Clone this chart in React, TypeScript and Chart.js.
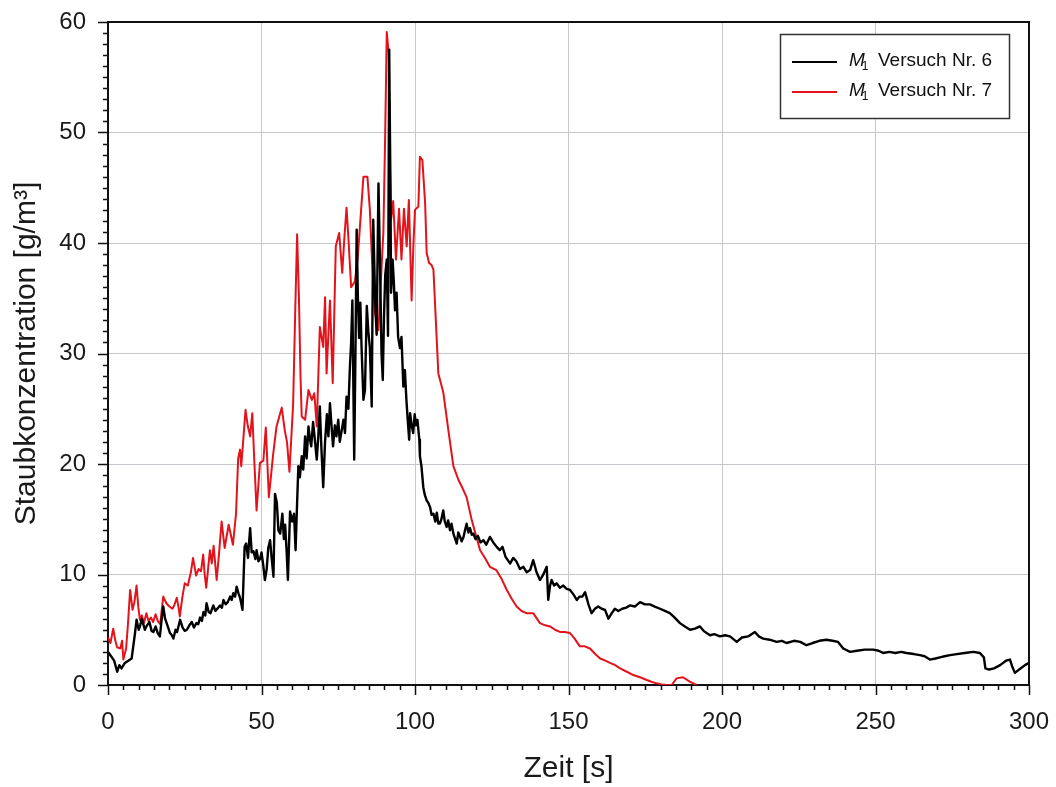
import React, { useEffect, useRef } from 'react';
import { Chart, registerables } from 'chart.js';

Chart.register(...registerables);

// ---------- data ----------
const seriesLabels = ['Versuch Nr. 6', 'Versuch Nr. 7'];
const seriesColors = ['#000000', '#e3131b'];

const blackTime = [
  0, 1, 2, 3, 3.7, 4.4, 5.5, 6.6, 7.7, 8.8, 9.3, 10, 10.4, 11, 11.4, 12, 12.5, 13.5, 14.2, 14.8,
  15.5, 16.2, 16.9, 17.5, 18, 18.6, 19.1, 19.6, 20.2, 20.8, 21.3, 22, 22.5, 23.5, 24.3, 25, 25.7, 26.5, 27.3, 28,
  28.8, 29.4, 30, 30.6, 31.1, 31.7, 32.1, 32.8, 33.4, 34.3, 35, 35.6, 36.5, 37.1, 37.6, 38.3, 39, 39.8, 40.3, 40.8,
  41.4, 41.9, 42.5, 43, 43.4, 43.8, 44.2, 44.5, 45, 45.6, 46.3, 46.8, 47.4, 48, 48.4, 49, 49.5, 50, 50.5, 51.1,
  51.7, 52.2, 52.8, 53.3, 53.9, 54.4, 55, 55.5, 56.1, 56.8, 57.3, 57.7, 58.2, 58.6, 59.3, 60, 60.6, 61.1, 61.6, 62,
  62.5, 63.1, 63.6, 64.2, 64.7, 65.3, 65.8, 66.2, 66.8, 67.3, 68, 68.5, 69, 69.5, 70.1, 70.7, 71.3, 71.8, 72.3, 72.8,
  73.3, 73.9, 74.4, 75, 75.5, 76.1, 76.7, 77.2, 77.7, 78.3, 78.8, 79.2, 79.6, 80.2, 80.6, 81, 81.4, 81.8, 82.2, 82.6,
  83.2, 83.7, 84.3, 84.8, 85.3, 85.9, 86.4, 87, 87.5, 88.1, 88.6, 89.1, 89.5, 89.9, 90.3, 90.8, 91.2, 91.6, 92, 92.2,
  92.7, 93.1, 93.5, 94, 94.5, 95.1, 95.6, 96.2, 96.7, 97.2, 97.6, 98.1, 98.4, 98.9, 99.4, 99.9, 100.3, 100.8, 101.4, 101.6,
  102.1, 102.7, 103.2, 103.8, 104.3, 104.9, 105.4, 106, 106.6, 107.1, 107.6, 108.1, 108.6, 109.2, 109.7, 110.3, 110.8, 111.4, 111.9, 112.5,
  113, 113.6, 114.1, 114.7, 115.2, 115.8, 116.3, 116.8, 117.4, 117.9, 118.5, 119, 119.7, 120.5, 121.3, 122.3, 123.2, 124.4, 125.5, 126.6,
  127.6, 128.5, 129.5, 131, 132, 133, 134.2, 135.3, 136.4, 137.5, 138.5, 139.6, 140.7, 141.8, 142.9, 143.4, 144, 144.5, 145.3, 146.1,
  147.2, 148.3, 149.4, 150.5, 151.6, 152.7, 153.6, 154.5, 155.4, 156.5, 157.5, 158.6, 159.7, 160.8, 161.9, 163, 164.1, 165.1, 166.2, 167.5,
  168.8, 170, 171.6, 173.3, 174.9, 176.5, 178.1, 179.8, 181.4, 183, 184.6, 186.3, 187.9, 189.6, 191.2, 192.8, 194, 195, 196.1, 197.5,
  199.3, 201, 202.6, 204.8, 206.5, 208.5, 210.7, 212, 213.4, 215.5, 217.8, 219.5, 221, 223.5, 225.5, 227.5, 229.5, 231.7, 234, 236,
  237.8, 239.5, 241.7, 244, 246.5, 249.3, 251, 252.5, 254.5, 256.5, 258.3, 260.1, 262.5, 264.5, 266, 267.7, 269.5, 271, 272.5, 274.3,
  276.5, 279, 281.9, 284, 285.3, 285.8, 287, 288.6, 290.6, 292.5, 293.8, 294.5, 295.4, 296.8, 298.7, 300,
];
const blackValue = [
  3.0, 2.6, 2.2, 1.2, 1.8, 1.5, 2.0, 2.2, 2.4, 4.7, 5.9, 5.0, 5.3, 6.0, 5.6, 5.0, 5.3, 5.7, 4.9, 4.8,
  5.3, 4.7, 4.4, 6.0, 7.1, 6.0, 5.6, 5.2, 4.7, 4.5, 4.2, 5.0, 4.8, 5.9, 5.2, 4.9, 5.0, 5.4, 5.7, 5.2,
  5.6, 5.5, 6.1, 5.8, 6.6, 6.3, 7.4, 6.6, 6.5, 7.2, 6.7, 6.9, 7.2, 7.0, 7.7, 7.3, 7.5, 8.0, 7.7, 8.3,
  8.0, 8.9, 8.3, 7.9, 7.4, 6.8, 10.0, 12.5, 12.8, 11.5, 14.2, 12.0, 12.1, 11.4, 12.2, 11.2, 11.4, 12.0, 11.0, 9.5,
  10.5, 12.4, 13.1, 11.5, 9.8, 17.3, 16.5, 14.0, 13.7, 15.5, 13.2, 14.5, 12.0, 9.5, 15.7, 14.8, 15.5, 12.2, 16.5, 19.8,
  18.8, 20.7, 19.5, 22.5, 20.5, 23.4, 22.2, 21.6, 23.8, 22.4, 20.4, 22.5, 25.2, 21.5, 17.9, 22.0, 24.5, 22.5, 25.5, 23.5,
  21.6, 23.5, 22.5, 24.0, 22.0, 23.0, 24.0, 22.8, 26.1, 25.0, 28.8, 31.0, 34.8, 20.4, 30.0, 41.2, 35.0, 31.4, 34.6, 30.5,
  25.8, 26.7, 34.3, 32.0, 30.5, 25.2, 42.1, 35.0, 31.7, 45.4, 38.0, 30.0, 27.6, 33.3, 37.1, 38.5, 31.6, 57.5, 45.0, 35.5,
  38.5, 36.5, 33.9, 35.5, 31.5, 30.5, 31.5, 27.0, 28.5, 25.8, 24.1, 22.2, 24.6, 23.5, 22.8, 24.5, 23.5, 24.0, 22.2, 20.7,
  19.8, 17.9, 17.2, 16.7, 16.5, 16.1, 15.4, 15.5, 14.8, 15.6, 14.6, 14.6, 15.0, 15.8, 14.8, 14.3, 14.9, 14.0, 14.6, 13.7,
  13.3, 12.8, 13.8, 13.4, 13.0, 13.4, 14.0, 14.6, 13.8, 14.2, 13.6, 13.7, 13.2, 13.5, 12.9, 13.1, 12.7, 13.4, 12.9, 12.5,
  12.2, 12.5, 11.6, 11.0, 11.5, 11.2, 10.5, 10.7, 10.2, 10.4, 11.3, 10.2, 9.5, 10.0, 10.7, 7.7, 9.0, 9.5, 9.0, 9.2,
  8.8, 9.0, 8.7, 8.6, 8.2, 7.7, 8.0, 8.0, 8.4, 7.3, 6.5, 6.9, 7.1, 6.9, 6.8, 6.0, 6.5, 6.9, 6.7, 6.9,
  7.0, 7.2, 7.1, 7.5, 7.3, 7.3, 7.1, 6.9, 6.7, 6.5, 6.1, 5.6, 5.3, 5.0, 5.1, 5.3, 4.9, 4.7, 4.5, 4.6,
  4.4, 4.5, 4.4, 3.9, 4.3, 4.4, 4.8, 4.4, 4.2, 4.1, 3.9, 4.0, 3.8, 4.0, 3.9, 3.6, 3.8, 4.0, 4.1, 4.0,
  3.9, 3.3, 3.0, 3.1, 3.2, 3.2, 3.1, 2.9, 3.0, 2.9, 3.0, 2.9, 2.8, 2.7, 2.6, 2.3, 2.4, 2.5, 2.6, 2.7,
  2.8, 2.9, 3.0, 2.9, 2.5, 1.5, 1.4, 1.5, 1.8, 2.2, 2.3, 1.7, 1.1, 1.4, 1.8, 2.0,
];

const redTime = [
  0, 0.8, 1.7, 2.4, 3, 4, 4.6, 5, 5.9, 6.5, 7.2, 8, 8.6, 9.3, 9.9, 10.4, 11, 11.7, 12.5, 13.2,
  14, 14.7, 15.5, 16.2, 17, 17.5, 18, 19, 20, 21, 21.7, 22.4, 23, 23.4, 24.2, 25, 26, 27, 27.7, 28.7,
  29.5, 30.3, 31, 31.5, 32, 33.2, 33.8, 34.4, 35.4, 36.2, 37, 38, 39.3, 40.7, 41.7, 42.4, 43, 43.4, 44.8, 45.5,
  46.3, 47, 47.7, 48.4, 49.5, 50.6, 51.4, 52.4, 53.8, 54.9, 55.8, 56.6, 57.6, 58.3, 59.1, 60.3, 61, 61.6, 62.2, 62.7,
  63.1, 64.2, 65.3, 66.4, 67.2, 68, 69, 70.1, 70.7, 71.2, 72.3, 73.2, 74.2, 75.3, 76.3, 77, 77.7, 78.4, 79.2, 80.4,
  81.3, 82.2, 83.2, 84.5, 85.3, 85.9, 87, 88.1, 88.6, 89.7, 90.3, 90.8, 91.4, 91.8, 92.2, 92.9, 93.8, 94.8, 95.6, 96.4,
  97.3, 98, 98.9, 99.5, 100, 101.1, 101.6, 102.4, 103.3, 103.8, 104.6, 105.4, 106, 107.6, 109.2, 111, 112.5, 114.1, 115.5, 116.8,
  118.5, 120, 121.2, 122.8, 124.4, 126.5, 128.2, 129.9, 131.5, 133.1, 134.7, 136.3, 138.5, 140.7, 142.4, 144, 145.6, 147.2, 148.8, 150.5,
  152, 153.7, 155.3, 157, 158.7, 160.3, 162, 163.5, 165.2, 166.8, 169, 171.1, 173.3, 175.5, 177, 178.7, 180.3, 182, 183.6, 185.2,
  187.3, 189.5, 191.7,
];
const redValue = [
  4.3, 3.8, 5.1, 4.0, 3.4, 3.3, 4.0, 2.3, 3.3, 5.5, 8.6, 6.8, 7.5, 9.0, 7.0, 5.9, 6.3, 5.6, 6.5, 5.8,
  6.1, 5.7, 6.4, 5.8, 5.5, 6.8, 8.0, 7.4, 7.1, 6.9, 7.3, 7.9, 7.0, 6.2, 7.9, 9.2, 9.0, 10.2, 11.5, 9.9,
  10.5, 10.3, 11.8, 10.0, 8.8, 12.2, 11.0, 12.6, 9.5, 12.0, 14.8, 12.4, 14.5, 12.7, 15.5, 20.5, 21.3, 19.8, 24.9, 23.5,
  22.5, 24.6, 20.0, 15.8, 20.1, 20.3, 23.3, 17.0, 20.9, 23.4, 24.3, 25.1, 23.0, 22.0, 19.3, 25.4, 34.0, 40.8, 35.0, 28.0,
  24.3, 24.0, 26.7, 25.8, 26.4, 23.4, 32.4, 30.6, 35.1, 28.2, 34.8, 27.3, 39.7, 40.9, 37.3, 40.5, 43.2, 40.0, 36.0, 36.5,
  38.5, 42.0, 46.0, 46.0, 43.0, 39.1, 33.6, 32.1, 35.0, 41.0, 50.0, 59.1, 57.2, 48.0, 42.1, 43.8, 38.5, 43.1, 38.5, 43.1,
  39.7, 43.9, 34.8, 40.0, 43.0, 43.3, 47.8, 47.5, 43.6, 39.1, 38.2, 38.0, 37.6, 28.2, 26.5, 22.8, 19.8, 18.6, 17.8, 17.0,
  14.9, 13.4, 12.2, 11.5, 10.7, 10.4, 9.6, 8.6, 7.8, 7.1, 6.7, 6.5, 6.5, 5.6, 5.4, 5.3, 5.0, 4.8, 4.8, 4.7,
  4.2, 3.5, 3.5, 3.3, 2.8, 2.4, 2.2, 2.0, 1.8, 1.5, 1.2, 0.9, 0.7, 0.45, 0.3, 0.15, 0.05, 0, 0, 0.6,
  0.7, 0.3, 0,
];

const xTickValues = [0, 50, 100, 150, 200, 250, 300];
const yTickValues = [0, 10, 20, 30, 40, 50, 60];
const xMinorStep = 5;
const yMinorStep = 1;
const xTitle = 'Zeit [s]';
const yTitle = 'Staubkonzentration [g/m³]';

const FONT = "'Liberation Sans', Arial, sans-serif";

const toPoints = (t: number[], v: number[]) => t.map((x, i) => ({ x, y: v[i] }));

const decorPlugin = {
  id: 'decor',
  afterDraw(chart: any) {
    const { ctx, chartArea: a, scales } = chart;
    const x = scales.x;
    const y = scales.y;
    ctx.save();
    // frame top/right
    ctx.strokeStyle = '#111';
    ctx.lineWidth = 2;
    ctx.beginPath();
    ctx.moveTo(a.left, a.top);
    ctx.lineTo(a.right, a.top);
    ctx.lineTo(a.right, a.bottom);
    ctx.stroke();

    // ticks (major + minor), outward
    ctx.lineWidth = 1.5;
    ctx.strokeStyle = '#111';
    ctx.beginPath();
    const xMin = xTickValues[0];
    const xMax = xTickValues[xTickValues.length - 1];
    for (let v = xMin; v <= xMax + 1e-9; v += xMinorStep) {
      const px = Math.round(x.getPixelForValue(v)) + 0.5;
      const major = xTickValues.includes(v);
      ctx.moveTo(px, a.bottom);
      ctx.lineTo(px, a.bottom + (major ? 10 : 5));
    }
    const yMin = yTickValues[0];
    const yMax = yTickValues[yTickValues.length - 1];
    for (let v = yMin; v <= yMax + 1e-9; v += yMinorStep) {
      const py = Math.round(y.getPixelForValue(v)) + 0.5;
      const major = yTickValues.includes(v);
      ctx.moveTo(a.left, py);
      ctx.lineTo(a.left - (major ? 10 : 5), py);
    }
    ctx.stroke();

    // legend
    const bx = 780.5, by = 34.5, bw = 229, bh = 84;
    ctx.fillStyle = '#ffffff';
    ctx.fillRect(bx, by, bw, bh);
    ctx.strokeStyle = '#333';
    ctx.lineWidth = 1.5;
    ctx.strokeRect(bx, by, bw, bh);
    chart.data.datasets.forEach((ds: any, i: number) => {
      const ly = 62 + i * 30;
      ctx.strokeStyle = ds.borderColor;
      ctx.lineWidth = 2;
      ctx.beginPath();
      ctx.moveTo(792, ly);
      ctx.lineTo(837, ly);
      ctx.stroke();
      const base = ly + 3.5;
      ctx.fillStyle = '#111';
      ctx.textBaseline = 'alphabetic';
      ctx.textAlign = 'left';
      ctx.font = `italic 19px ${FONT}`;
      ctx.fillText('M', 849, base);
      const mw = ctx.measureText('M').width;
      ctx.font = `12px ${FONT}`;
      ctx.fillText('1', 849 + mw - 3, base + 4);
      ctx.font = `19px ${FONT}`;
      ctx.fillText(seriesLabels[i], 878, base);
    });
    ctx.restore();
  },
};

export default function App() {
  const ref = useRef<HTMLCanvasElement | null>(null);

  useEffect(() => {
    document.body.style.margin = '0';
    const canvas = ref.current;
    if (!canvas) return;
    const chart = new Chart(canvas, {
      type: 'line',
      data: {
        datasets: [
          {
            label: seriesLabels[0],
            data: toPoints(blackTime, blackValue),
            borderColor: seriesColors[0],
            borderWidth: 2.4,
            pointRadius: 0,
            tension: 0,
            borderJoinStyle: 'round',
          },
          {
            label: seriesLabels[1],
            data: toPoints(redTime, redValue),
            borderColor: seriesColors[1],
            borderWidth: 2,
            pointRadius: 0,
            tension: 0,
            borderJoinStyle: 'round',
          },
        ],
      },
      options: {
        responsive: false,
        animation: false,
        devicePixelRatio: 1,
        parsing: false,
        normalized: true,
        layout: { padding: { top: 22, right: 27, left: 0, bottom: 0 } },
        plugins: {
          legend: { display: false },
          tooltip: { enabled: false },
        },
        scales: {
          x: {
            type: 'linear',
            min: 0,
            max: 300,
            afterBuildTicks: (s: any) => {
              s.ticks = xTickValues.map((value) => ({ value }));
            },
            afterFit: (s: any) => {
              s.height = 102;
              s.paddingLeft = 0;
              s.paddingRight = 0;
            },
            ticks: {
              font: { family: FONT, size: 24 },
              color: '#1a1a1a',
              padding: 23,
              maxRotation: 0,
              autoSkip: false,
            },
            grid: { color: '#c6c6cc', lineWidth: 1, drawTicks: false },
            border: { color: '#111', width: 2 },
            title: {
              display: true,
              text: xTitle,
              font: { family: FONT, size: 30 },
              color: '#1a1a1a',
              padding: { top: 0, bottom: 0 },
            },
          },
          y: {
            type: 'linear',
            min: 0,
            max: 60,
            afterBuildTicks: (s: any) => {
              s.ticks = yTickValues.map((value) => ({ value }));
            },
            afterFit: (s: any) => {
              s.width = 108;
              s.paddingTop = 0;
              s.paddingBottom = 0;
            },
            ticks: {
              font: { family: FONT, size: 24 },
              color: '#1a1a1a',
              padding: 22,
              autoSkip: false,
            },
            grid: { color: '#c6c6cc', lineWidth: 1, drawTicks: false },
            border: { color: '#111', width: 2 },
            title: {
              display: true,
              text: yTitle,
              font: { family: FONT, size: 30 },
              color: '#1a1a1a',
              padding: { top: 9, bottom: 0 },
            },
          },
        },
      },
      plugins: [decorPlugin],
    } as any);
    return () => chart.destroy();
  }, []);

  return (
    <div style={{ width: 1056, height: 787 }}>
      <canvas ref={ref} width={1056} height={787} style={{ display: 'block' }} />
    </div>
  );
}
